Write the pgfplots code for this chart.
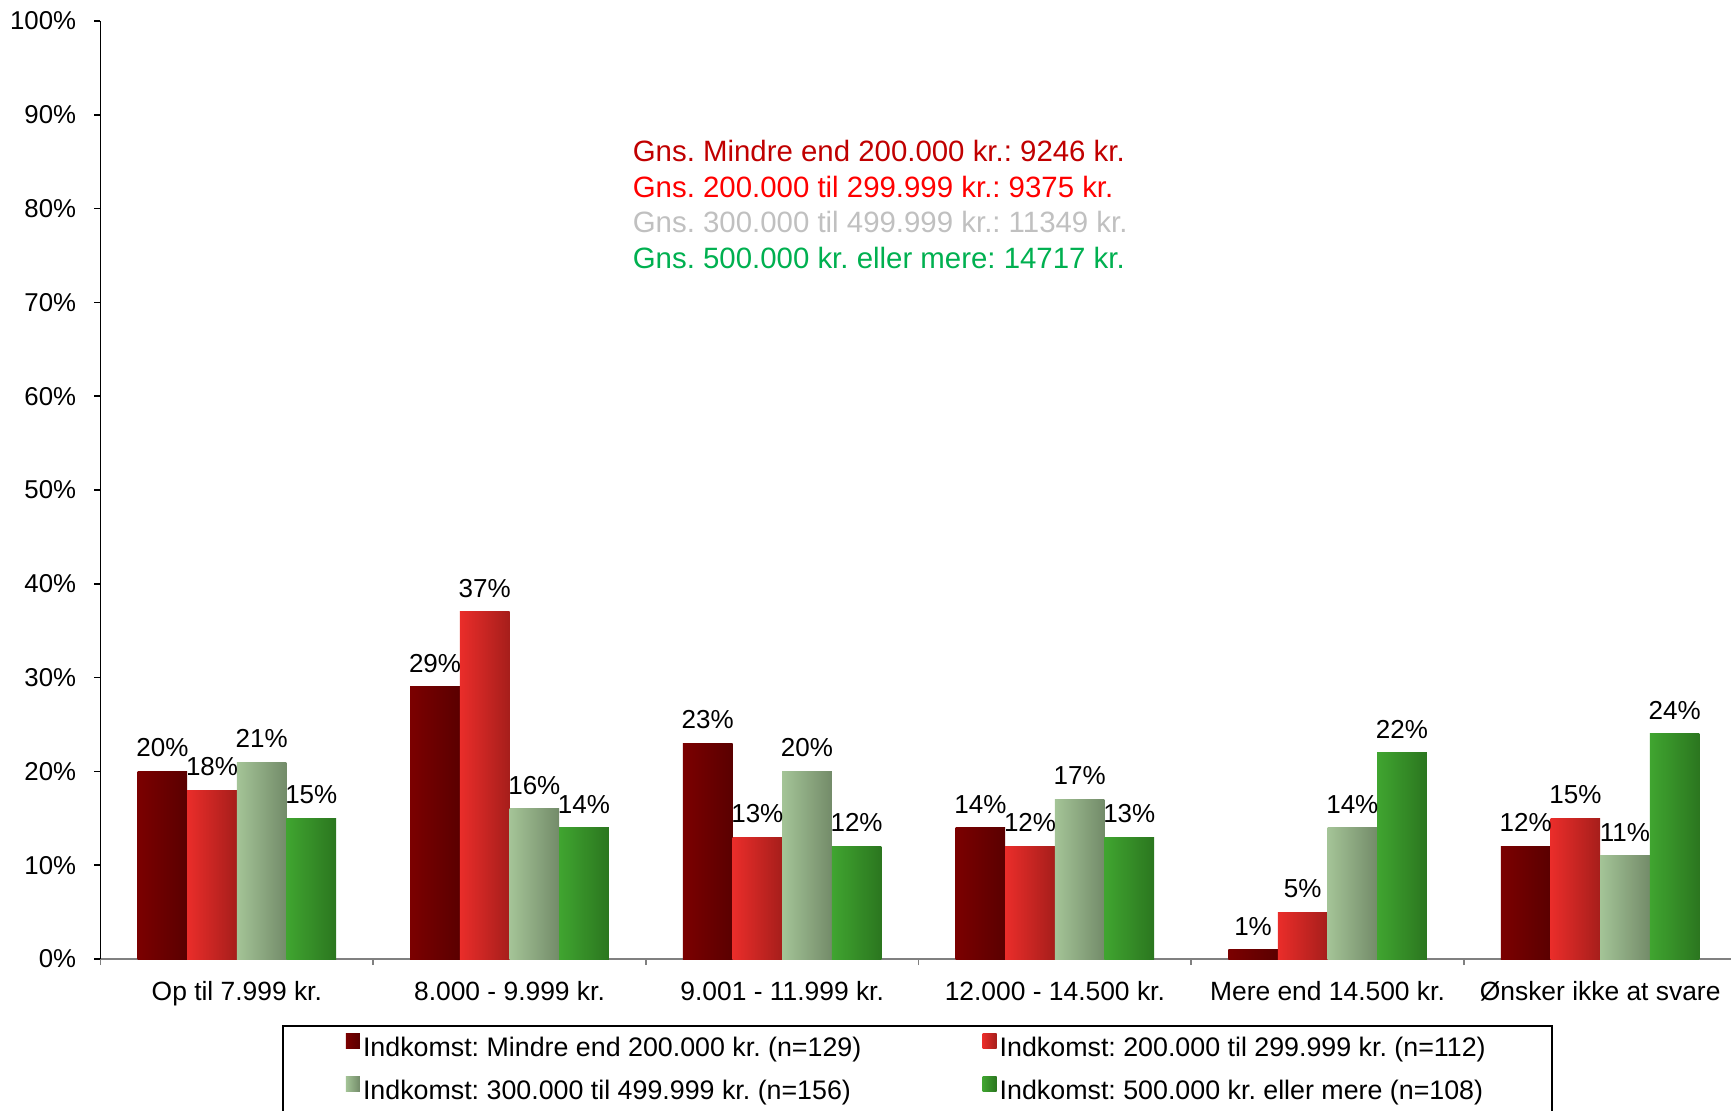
\documentclass[border=0pt]{standalone}
\usepackage{pgfplots}
\pgfplotsset{compat=1.18}
\usepackage{fontspec}
\setmainfont{Liberation Sans}
\frenchspacing

\definecolor{dredA}{HTML}{7B0000}
\definecolor{dredB}{HTML}{5A0000}
\definecolor{redA}{HTML}{EA2D2A}
\definecolor{redB}{HTML}{A61E1B}
\definecolor{lgrA}{HTML}{A4C497}
\definecolor{lgrB}{HTML}{738B69}
\definecolor{grA}{HTML}{40A530}
\definecolor{grB}{HTML}{2B761F}
\definecolor{gnsA}{HTML}{C00000}
\definecolor{gnsB}{HTML}{FF0000}
\definecolor{gnsC}{HTML}{C0C0C0}
\definecolor{gnsD}{HTML}{00B050}

% one style per income group; every bar is its own plot so that
% the left-to-right shading is drawn per bar
\pgfplotsset{
  sA/.style={draw=none, left color=dredA, right color=dredB, bar shift=-0.273},
  sB/.style={draw=none, left color=redA, right color=redB, bar shift=-0.091},
  sC/.style={draw=none, left color=lgrA, right color=lgrB, bar shift=0.091},
  sD/.style={draw=none, left color=grA, right color=grB, bar shift=0.273},
}

\begin{document}
\begin{tikzpicture}
\begin{axis}[
  at={(0,0)}, anchor=south west,
  scale only axis, width=818pt, height=469pt,
  ybar, bar width=0.182,
  xmin=-0.5, xmax=5.5, ymin=0, ymax=100,
  enlargelimits=false,
  axis x line=bottom, axis y line=left,
  axis line style={-, line width=0.75pt},
  x axis line style={color=gray},
  y axis line style={color=black},
  tick align=outside, major tick length=3pt,
  xtick style={gray, line width=0.75pt},
  ytick style={black, line width=0.75pt},
  xtick={-0.5,0.5,...,5.5},
  x tick label as interval,
  xticklabels={Op til 7.999 kr., 8.000 - 9.999 kr., 9.001 - 11.999 kr., 12.000 - 14.500 kr., Mere end 14.500 kr., Ønsker ikke at svare},
  ytick={0,10,...,100},
  yticklabel={\pgfmathprintnumber{\tick}\%},
  /pgf/number format/assume math mode=true,
  yticklabel style={font=\fontsize{12.9}{15}\selectfont, inner sep=0pt, anchor=east, xshift=-9pt},
  xticklabel style={font=\fontsize{13.2}{15}\selectfont, inner sep=0pt, anchor=north, yshift=-8pt},
  nodes near coords={\pgfmathprintnumber{\pgfplotspointmeta}\%},
  every node near coord/.append style={font=\fontsize{13}{15}\selectfont, black, inner sep=0pt, anchor=south, yshift=7pt},
  legend image code/.code={\path[#1, draw=none] (0pt,0.2pt) rectangle (7pt,7.4pt);},
  legend columns=2,
  legend cell align=left,
  legend style={
    at={(axis description cs:0.11094,-0.07036)}, anchor=north west,
    draw=black, line width=0.8pt,
    font=\fontsize{13.4}{15}\selectfont,
    inner xsep=31.5pt, inner ysep=4pt,
    row sep=7.5pt,
    nodes={inner ysep=1pt, inner xsep=1.6pt},
    /tikz/every even column/.append style={column sep=59pt},
  },
]
% Op til 7.999 kr.
\addplot[sA] coordinates {(0,20)};
\addplot[sB] coordinates {(0,18)};
\addplot[sC] coordinates {(0,21)};
\addplot[sD] coordinates {(0,15)};
\legend{Indkomst: Mindre end 200.000 kr. (n=129), Indkomst: 200.000 til 299.999 kr. (n=112), Indkomst: 300.000 til 499.999 kr. (n=156), Indkomst: 500.000 kr. eller mere (n=108)}
% 8.000 - 9.999 kr.
\addplot[sA, forget plot] coordinates {(1,29)};
\addplot[sB, forget plot] coordinates {(1,37)};
\addplot[sC, forget plot] coordinates {(1,16)};
\addplot[sD, forget plot] coordinates {(1,14)};
% 9.001 - 11.999 kr.
\addplot[sA, forget plot] coordinates {(2,23)};
\addplot[sB, forget plot] coordinates {(2,13)};
\addplot[sC, forget plot] coordinates {(2,20)};
\addplot[sD, forget plot] coordinates {(2,12)};
% 12.000 - 14.500 kr.
\addplot[sA, forget plot] coordinates {(3,14)};
\addplot[sB, forget plot] coordinates {(3,12)};
\addplot[sC, forget plot] coordinates {(3,17)};
\addplot[sD, forget plot] coordinates {(3,13)};
% Mere end 14.500 kr.
\addplot[sA, forget plot] coordinates {(4,1)};
\addplot[sB, forget plot] coordinates {(4,5)};
\addplot[sC, forget plot] coordinates {(4,14)};
\addplot[sD, forget plot] coordinates {(4,22)};
% Ønsker ikke at svare
\addplot[sA, forget plot] coordinates {(5,12)};
\addplot[sB, forget plot] coordinates {(5,15)};
\addplot[sC, forget plot] coordinates {(5,11)};
\addplot[sD, forget plot] coordinates {(5,24)};

% averages
\node[anchor=base west, inner sep=0pt, text=gnsA, font=\fontsize{14.7}{17}\selectfont] at (axis cs:1.451,84.97) {Gns. Mindre end 200.000 kr.: 9246 kr.};
\node[anchor=base west, inner sep=0pt, text=gnsB, font=\fontsize{14.7}{17}\selectfont] at (axis cs:1.451,81.2) {Gns. 200.000 til 299.999 kr.: 9375 kr.};
\node[anchor=base west, inner sep=0pt, text=gnsC, font=\fontsize{14.7}{17}\selectfont] at (axis cs:1.451,77.42) {Gns. 300.000 til 499.999 kr.: 11349 kr.};
\node[anchor=base west, inner sep=0pt, text=gnsD, font=\fontsize{14.7}{17}\selectfont] at (axis cs:1.451,73.65) {Gns. 500.000 kr. eller mere: 14717 kr.};
\end{axis}
\pgfresetboundingbox
\path[use as bounding box] (-50.25pt,-75.5pt) rectangle (815.25pt,479.5pt);
\end{tikzpicture}
\end{document}
